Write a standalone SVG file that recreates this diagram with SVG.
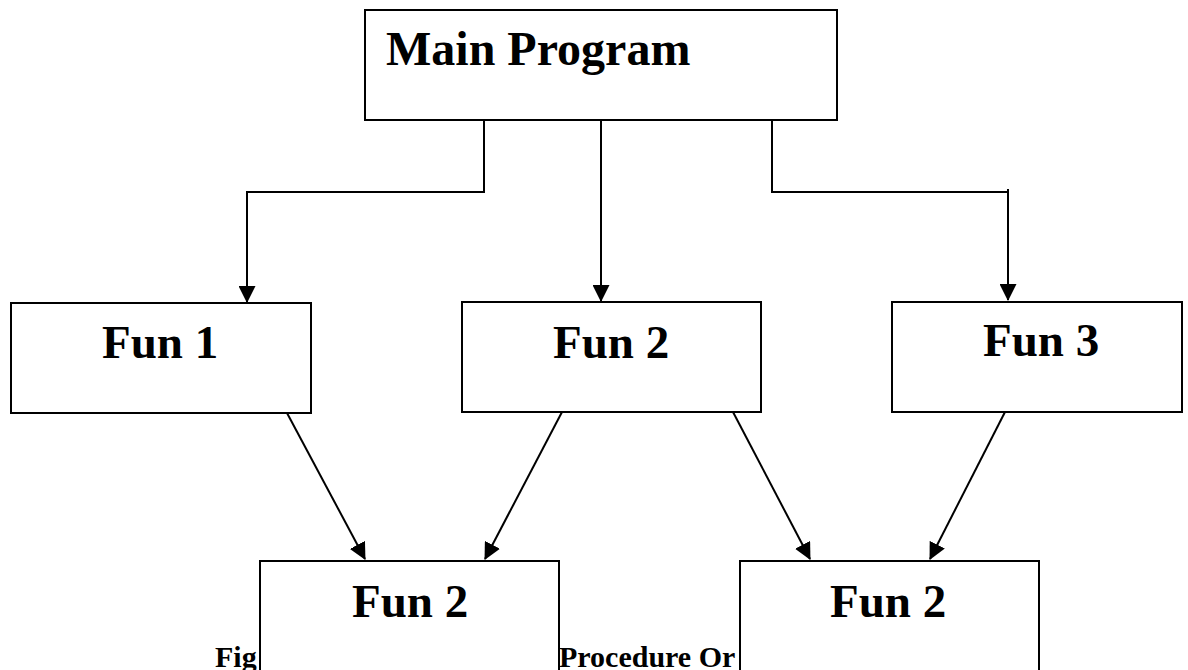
<svg xmlns="http://www.w3.org/2000/svg" width="1188" height="670" viewBox="0 0 1188 670">
<style>
.box{fill:#fff;stroke:#000;stroke-width:2}
.lbl{font-family:"Liberation Serif","Times New Roman",serif;font-weight:bold;font-size:47px;fill:#000}
.main{font-size:48px}
.cap{font-family:"Liberation Serif","Times New Roman",serif;font-weight:bold;font-size:30px;fill:#000}
.con{fill:none;stroke:#000;stroke-width:2}
</style>
<defs>
<marker id="arr" markerUnits="userSpaceOnUse" markerWidth="17" markerHeight="17" viewBox="0 0 17 17" refX="16" refY="8.5" orient="auto">
<path d="M0,0 L17,8.5 L0,17 z" fill="#000"/>
</marker>
</defs>
<g id="caption">
<text class="cap" x="215" y="667">Fig</text>
<text class="cap" x="559" y="667">Procedure Or</text>
</g>
<g id="connectors">
<path class="con" d="M484,120 V192 H247 V302" marker-end="url(#arr)"/>
<path class="con" d="M601,120 V301" marker-end="url(#arr)"/>
<path class="con" d="M772,120 V192 H1008"/>
<path class="con" d="M1008,189 V300" marker-end="url(#arr)"/>
<path class="con" d="M287,413 L365,559" marker-end="url(#arr)"/>
<path class="con" d="M562,412 L485,559" marker-end="url(#arr)"/>
<path class="con" d="M733,412 L810,559" marker-end="url(#arr)"/>
<path class="con" d="M1005,412 L930,559" marker-end="url(#arr)"/>
</g>
<g id="main-program">
<rect class="box" x="365" y="10" width="472" height="110"/>
<text class="lbl main" x="386" y="65">Main Program</text>
</g>
<g id="fun1">
<rect class="box" x="11" y="303" width="300" height="110"/>
<text class="lbl" x="102" y="358">Fun 1</text>
</g>
<g id="fun2-top">
<rect class="box" x="462" y="302" width="299" height="110"/>
<text class="lbl" x="553" y="358">Fun 2</text>
</g>
<g id="fun3">
<rect class="box" x="892" y="302" width="290" height="110"/>
<text class="lbl" x="983" y="356">Fun 3</text>
</g>
<g id="fun2-bottom-left">
<rect class="box" x="260" y="561" width="299" height="130"/>
<text class="lbl" x="352" y="617">Fun 2</text>
</g>
<g id="fun2-bottom-right">
<rect class="box" x="740" y="561" width="299" height="130"/>
<text class="lbl" x="830" y="617">Fun 2</text>
</g>
</svg>
